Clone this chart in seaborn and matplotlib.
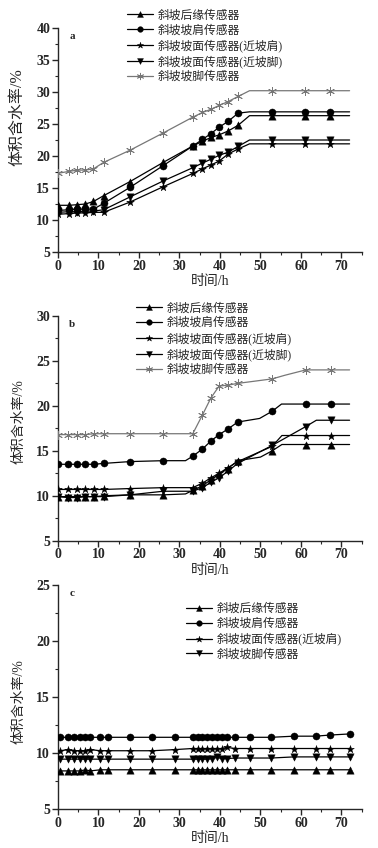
import numpy as np
import pandas as pd
import matplotlib
matplotlib.use("Agg")
import matplotlib.pyplot as plt
from matplotlib.ticker import MultipleLocator, AutoMinorLocator
import seaborn as sns

# ---- data ----
labels5 = ["斜坡后缘传感器", "斜坡坡肩传感器", "斜坡坡面传感器(近坡肩)",
           "斜坡坡面传感器(近坡脚)", "斜坡坡脚传感器"]
labels_c = ["斜坡后缘传感器", "斜坡坡肩传感器", "斜坡坡面传感器(近坡肩)", "斜坡坡脚传感器"]

# panel a: measured points
t_a = [0, 2.8, 4.8, 6.8, 8.8, 11.3, 17.8, 26, 33.4, 35.7, 37.8, 39.8, 42, 44.5, 52.9, 60.9, 67.1]
a_back = [12.3, 12.3, 12.4, 12.5, 12.9, 13.8, 16.0, 19.0, 21.6, 22.3, 22.9, 23.3, 23.9, 24.8, 26.3, 26.3, 26.3]
a_shoulder = [11.5, 11.6, 11.7, 11.7, 11.7, 12.6, 15.1, 18.5, 21.6, 22.6, 23.5, 24.5, 25.4, 26.7, 26.9, 26.9, 26.9]
a_face_s = [10.9, 11.0, 11.1, 11.1, 11.2, 11.2, 12.8, 15.2, 17.3, 18.0, 18.6, 19.2, 20.3, 21.1, 21.9, 21.9, 21.9]
a_face_t = [11.2, 11.3, 11.3, 11.4, 11.4, 11.6, 13.6, 16.1, 18.2, 18.9, 19.5, 20.1, 20.6, 21.5, 22.5, 22.5, 22.5]
a_toe = [17.3, 17.6, 17.8, 17.8, 18.0, 19.0, 20.9, 23.6, 26.1, 26.8, 27.3, 27.9, 28.5, 29.3, 30.2, 30.2, 30.2]
# panel a: line-only points (knees / line ends, no marker)
a_extra_t = [47.3, 72]
a_extra = {
    "back": [26.3, 26.3], "shoulder": [26.9, 26.9], "face_s": [21.9, 21.9],
    "face_t": [22.5, 22.5], "toe": [30.2, 30.2],
}

# panel b
t_b = [0, 2.6, 4.7, 6.8, 8.9, 11.4, 17.8, 26, 33.3, 35.7, 37.8, 39.8, 41.9, 44.4, 52.9, 61.2, 67.4]
b_back = [9.9, 9.9, 9.9, 9.9, 9.9, 10.0, 10.1, 10.1, 10.6, 11.1, 11.8, 12.4, 13.0, 13.9, 15.0, 15.7, 15.7]
b_shoulder = [13.5, 13.5, 13.5, 13.5, 13.5, 13.6, 13.8, 13.9, 14.4, 15.2, 16.1, 16.8, 17.4, 18.2, 19.4, 20.2, 20.2]
b_face_s = [10.7, 10.7, 10.7, 10.7, 10.7, 10.7, 10.8, 10.9, 10.9, 11.4, 12.0, 12.5, 13.1, 13.8, 15.5, 16.7, 16.7]
b_face_t = [9.9, 9.8, 9.8, 9.9, 9.9, 9.9, 10.1, 10.5, 10.5, 10.9, 11.5, 12.0, 12.7, 13.6, 15.6, 17.7, 18.4]
b_toe = [16.8, 16.8, 16.8, 16.8, 16.9, 16.9, 16.9, 16.9, 16.9, 19.0, 20.9, 22.2, 22.3, 22.5, 23.0, 24.0, 24.0]
b_extra = {
    "back": ([31.5, 50, 55.3, 72], [10.2, 14.3, 15.7, 15.7]),
    "shoulder": ([31.5, 49.8, 55.2, 72], [13.9, 18.6, 20.2, 20.2]),
    "face_s": ([55.3, 72], [16.7, 16.7]),
    "face_t": ([63.8, 72], [18.4, 18.4]),
    "toe": ([56, 72], [23.4, 24.0]),
}

# panel c
t_c = [0.5, 2.6, 4.1, 5.5, 6.8, 8.0, 10.5, 12.3, 17.8, 23.2, 28.8, 33.3, 34.5, 35.7,
       36.9, 38.1, 39.3, 40.5, 41.7, 43.8, 47.3, 52.7, 58.2, 63.6, 67.1, 72]
c_back = [8.4, 8.4, 8.4, 8.4, 8.5, 8.4, 8.5, 8.5, 8.5, 8.5, 8.5, 8.5, 8.5, 8.5,
          8.5, 8.5, 8.5, 8.5, 8.5, 8.5, 8.5, 8.5, 8.5, 8.5, 8.5, 8.5]
c_shoulder = [11.4, 11.4, 11.4, 11.4, 11.4, 11.4, 11.4, 11.4, 11.4, 11.4, 11.4, 11.4, 11.4, 11.4,
              11.4, 11.4, 11.4, 11.4, 11.4, 11.4, 11.4, 11.4, 11.5, 11.5, 11.6, 11.7]
c_face_s = [10.2, 10.3, 10.2, 10.2, 10.2, 10.3, 10.2, 10.2, 10.2, 10.2, 10.3, 10.4, 10.4, 10.4,
            10.4, 10.4, 10.4, 10.4, 10.5, 10.4, 10.4, 10.4, 10.4, 10.4, 10.4, 10.4]
c_toe = [9.45, 9.45, 9.45, 9.45, 9.45, 9.45, 9.45, 9.45, 9.45, 9.45, 9.45, 9.45, 9.45, 9.45,
         9.45, 9.5, 9.6, 9.5, 9.5, 9.55, 9.55, 9.55, 9.65, 9.65, 9.65, 9.65]

# ---- style ----
sns.set_style("ticks")
plt.rcParams["font.family"] = ["Liberation Serif", "Noto Sans CJK SC"]
plt.rcParams["axes.linewidth"] = 1.0

styles = {
    "back": dict(marker="^", color="black", s=28),
    "shoulder": dict(marker="o", color="black", s=26),
    "face_s": dict(marker="*", color="black", s=34),
    "face_t": dict(marker="v", color="black", s=28),
    "toe": dict(marker=(6, 2, 0), color="#777777", s=34),
}

fig = plt.figure(figsize=(3.78, 8.48), dpi=100)


def draw_series(ax, t, v, extra_t, extra_v, key):
    st = styles[key]
    df = pd.DataFrame({"t": list(t) + list(extra_t), "v": list(v) + list(extra_v)})
    sns.lineplot(data=df, x="t", y="v", ax=ax, color=st["color"], lw=0.9,
                 estimator=None, sort=True, zorder=2)
    line = ax.lines[-1]
    sns.scatterplot(x=t, y=v, ax=ax, marker=st["marker"], s=st["s"], color=st["color"],
                    edgecolor=st["color"], linewidth=0.6 if key == "toe" else 0.3, zorder=3)
    pts = ax.collections[-1]
    return (line, pts)


def style_axis(ax, ymax, letter):
    ax.set_xlim(0, 75)
    ax.set_ylim(5, ymax)
    ax.xaxis.set_major_locator(MultipleLocator(10))
    ax.yaxis.set_major_locator(MultipleLocator(5))
    ax.xaxis.set_minor_locator(AutoMinorLocator(2))
    ax.yaxis.set_minor_locator(AutoMinorLocator(2))
    ax.tick_params(which="major", direction="out", length=4, width=1, labelsize=10, pad=1.5)
    ax.tick_params(which="minor", direction="out", length=2, width=0.8)
    for lab in ax.get_xticklabels() + ax.get_yticklabels():
        lab.set_fontweight("bold")
    sns.despine(ax=ax)
    ax.set_xlabel("时间/h", fontsize=10, labelpad=2)
    ax.text(0.038, 0.96, letter, transform=ax.transAxes, fontsize=8, fontweight="bold",
            ha="left", va="center")


def add_legend(ax, handles, labels, anchor):
    ax.legend(handles, labels, loc="upper left", bbox_to_anchor=anchor, frameon=False,
              fontsize=8.5, handlelength=2.2, handletextpad=0.4, labelspacing=0.25,
              borderpad=0, borderaxespad=0, scatteryoffsets=[0.5], markerscale=0.8)


# panel a
ax_a = fig.add_axes([0.153, 0.7028, 0.804, 0.2642])
handles = []
for key, vals in zip(["back", "shoulder", "face_s", "face_t", "toe"],
                     [a_back, a_shoulder, a_face_s, a_face_t, a_toe]):
    handles.append(draw_series(ax_a, t_a, vals, a_extra_t, a_extra[key], key))
style_axis(ax_a, 40, "a")
ax_a.set_ylabel("体积含水率/%", fontsize=11.5)
ax_a.yaxis.set_label_coords(-0.105, 0.6)
add_legend(ax_a, handles, labels5, (0.228, 1.082))

# panel b
ax_b = fig.add_axes([0.153, 0.3624, 0.804, 0.265])
handles = []
for key, vals in zip(["back", "shoulder", "face_s", "face_t", "toe"],
                     [b_back, b_shoulder, b_face_s, b_face_t, b_toe]):
    ex_t, ex_v = b_extra[key]
    handles.append(draw_series(ax_b, t_b, vals, ex_t, ex_v, key))
style_axis(ax_b, 30, "b")
ax_b.set_ylabel("体积含水率/%", fontsize=10)
ax_b.yaxis.set_label_coords(-0.105, 0.53)
add_legend(ax_b, handles, labels5, (0.258, 1.061))

# panel c
ax_c = fig.add_axes([0.153, 0.046, 0.804, 0.2642])
handles = []
for key, vals in zip(["back", "shoulder", "face_s", "face_t"],
                     [c_back, c_shoulder, c_face_s, c_toe]):
    handles.append(draw_series(ax_c, t_c, vals, [], [], key))
style_axis(ax_c, 25, "c")
ax_c.set_ylabel("体积含水率/%", fontsize=10)
ax_c.yaxis.set_label_coords(-0.105, 0.48)
add_legend(ax_c, handles, labels_c, (0.423, 0.92))

fig.savefig("out.png", dpi=100)
